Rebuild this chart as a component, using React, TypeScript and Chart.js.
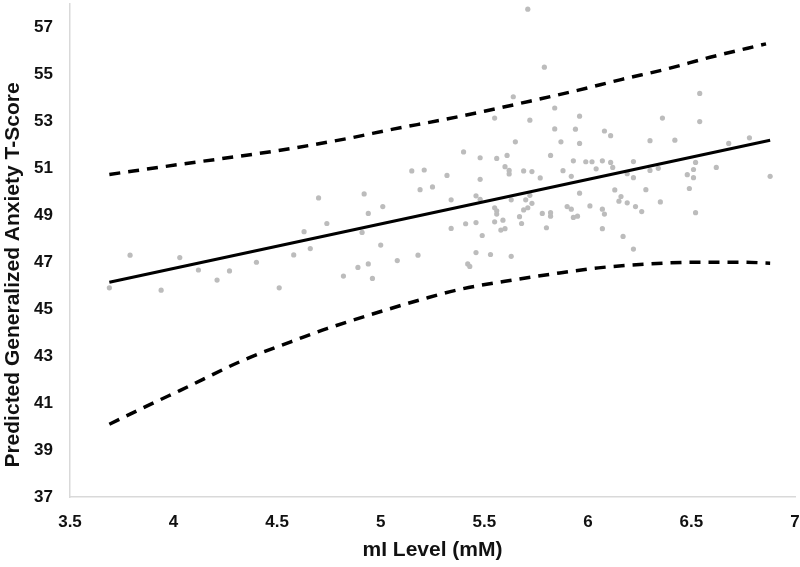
import React, { useEffect, useRef } from "react";
import { Chart, registerables } from "chart.js";

Chart.register(...registerables);

const xTicks = [3.5, 4, 4.5, 5, 5.5, 6, 6.5, 7];
const yTicks = [37, 39, 41, 43, 45, 47, 49, 51, 53, 55, 57];
const xTitle = "mI Level (mM)";
const yTitle = "Predicted Generalized Anxiety T-Score";

const observed: number[][] = [
  [3.69, 45.91], [3.79, 47.3], [3.94, 45.81], [4.03, 47.2], [4.12, 46.67], [4.21, 46.24],
  [4.27, 46.63], [4.4, 47.0], [4.51, 45.91], [4.58, 47.31], [4.63, 48.3], [4.66, 47.58],
  [4.7, 49.74], [4.74, 48.65], [4.82, 46.41], [4.89, 46.78], [4.91, 48.27], [4.92, 49.91],
  [4.94, 46.93], [4.96, 46.31], [4.94, 49.08], [5.01, 49.37],
  [5.64, 54.05], [5.84, 53.57], [5.55, 53.14], [5.72, 53.05], [5.84, 52.68], [5.65, 52.13],
  [5.87, 52.13], [5.4, 51.7], [5.48, 51.45], [5.56, 51.42], [5.61, 51.55], [5.82, 51.55],
  [5.6, 51.07], [5.62, 50.91], [5.62, 50.76], [5.69, 50.89], [5.73, 50.86], [5.77, 50.59],
  [5.88, 50.9], [5.15, 50.89], [5.21, 50.93], [5.32, 50.7], [5.48, 50.53], [5.19, 50.09],
  [5.25, 50.21], [5.34, 49.66], [5.46, 49.83], [5.48, 49.68], [5.55, 49.32], [5.56, 49.19],
  [5.56, 49.05], [5.63, 49.66], [5.7, 49.66], [5.72, 49.85], [5.73, 49.51], [5.71, 49.32],
  [5.69, 49.23], [5.67, 48.94], [5.78, 49.08], [5.82, 49.11], [5.82, 48.96], [5.9, 49.37],
  [5.34, 48.44], [5.41, 48.64], [5.46, 48.69], [5.49, 48.14], [5.55, 48.72], [5.59, 48.79],
  [5.58, 48.37], [5.6, 48.43], [5.68, 48.65], [5.8, 48.47], [5.0, 47.73], [5.18, 47.3],
  [5.08, 47.07], [5.46, 47.41], [5.53, 47.33], [5.63, 47.25], [5.42, 46.93], [5.43, 46.82],
  [5.71, 57.78], [5.79, 55.31],
  [6.54, 54.19], [5.96, 53.22], [6.36, 53.14], [6.54, 52.99], [5.94, 52.67], [6.08, 52.59],
  [6.11, 52.39], [5.96, 52.06], [6.3, 52.18], [6.42, 52.2], [6.68, 52.06], [6.78, 52.3],
  [5.93, 51.32], [5.99, 51.28], [6.02, 51.28], [6.07, 51.32], [6.11, 51.25], [6.22, 51.29],
  [6.04, 50.98], [6.12, 51.04], [5.92, 50.66], [6.19, 50.77], [6.22, 50.6], [6.3, 50.91],
  [6.34, 51.0], [6.48, 50.73], [6.51, 50.95], [6.52, 51.25], [6.51, 50.6], [6.62, 51.04],
  [6.88, 50.66], [5.96, 49.94], [6.13, 50.08], [6.16, 49.8], [6.15, 49.6], [6.19, 49.53],
  [6.28, 50.09], [6.35, 49.57], [6.49, 50.14], [5.92, 49.26], [5.93, 48.91], [5.95, 48.96],
  [6.01, 49.4], [6.07, 49.26], [6.08, 49.05], [6.23, 49.37], [6.26, 49.16], [6.52, 49.11],
  [6.07, 48.43], [6.17, 48.1], [6.22, 47.56],
];

const fitLine: number[][] = [
  [3.69, 46.15], [6.88, 52.2],
];

const upperBand: number[][] = [
  [3.69, 50.74], [4.04, 51.18], [4.5, 51.75], [4.84, 52.27], [5.06, 52.67], [5.29, 53.05],
  [5.5, 53.43], [5.72, 53.86], [5.95, 54.32], [6.16, 54.78], [6.38, 55.23], [6.59, 55.73],
  [6.86, 56.3],
];

const lowerBand: number[][] = [
  [3.69, 40.1], [3.92, 41.08], [4.03, 41.53], [4.33, 42.8], [4.63, 43.82], [4.74, 44.17],
  [5.0, 44.9], [5.2, 45.42], [5.38, 45.84], [5.6, 46.19], [5.83, 46.5], [6.05, 46.76],
  [6.28, 46.92], [6.52, 47.0], [6.75, 47.0], [6.88, 46.96],
];

const toPts = (a: number[][]) => a.map(([x, y]) => ({ x, y }));

const FONT = "'Liberation Sans', Arial, sans-serif";

const yTitlePlugin = {
  id: "yTitleDraw",
  afterDraw(chart: any) {
    const ctx = chart.ctx;
    ctx.save();
    ctx.translate(13, 275);
    ctx.rotate(-Math.PI / 2);
    ctx.font = `bold 21px ${FONT}`;
    ctx.fillStyle = "#111";
    ctx.textAlign = "center";
    ctx.textBaseline = "middle";
    ctx.fillText(yTitle, 0, 0);
    ctx.restore();
  },
};

export default function App() {
  const ref = useRef<HTMLCanvasElement>(null);
  useEffect(() => {
    if (!ref.current) return;
    const chart = new Chart(ref.current, {
      type: "scatter",
      data: {
        datasets: [
          {
            data: toPts(fitLine),
            showLine: true,
            borderColor: "#000",
            borderWidth: 3,
            pointRadius: 0,
            order: 1,
          },
          {
            data: toPts(upperBand),
            showLine: true,
            borderColor: "#000",
            borderWidth: 3.5,
            borderDash: [11, 8],
            pointRadius: 0,
            cubicInterpolationMode: "monotone",
            order: 2,
          },
          {
            data: toPts(lowerBand),
            showLine: true,
            borderColor: "#000",
            borderWidth: 3.5,
            borderDash: [11, 8],
            pointRadius: 0,
            cubicInterpolationMode: "monotone",
            order: 3,
          },
          {
            data: toPts(observed),
            showLine: false,
            backgroundColor: "#bcbcbc",
            borderWidth: 0,
            pointRadius: 2.6,
            order: 4,
          },
        ],
      },
      options: {
        animation: false,
        responsive: false,
        layout: { padding: { top: 1, right: 0, left: 0, bottom: 0 } },
        plugins: { legend: { display: false }, tooltip: { enabled: false } },
        scales: {
          x: {
            type: "linear",
            min: 3.5,
            max: 7,
            afterBuildTicks: (s: any) => {
              s.ticks = xTicks.map((v) => ({ value: v }));
            },
            afterFit: (s: any) => {
              s.height = 70;
              s.paddingLeft = 0;
              s.paddingRight = 5;
            },
            grid: { display: true, color: "rgba(0,0,0,0)", drawTicks: false },
            border: { display: true, color: "#d9d9d9", width: 1.5 },
            ticks: {
              padding: 15,
              color: "#111",
              font: { family: FONT, size: 17, weight: "bold" },
              callback: (v: any) => String(v),
            },
            title: {
              display: true,
              text: xTitle,
              color: "#111",
              font: { family: FONT, size: 21, weight: "bold" },
              padding: { top: 0, bottom: 4 },
            },
          },
          y: {
            type: "linear",
            min: 37,
            max: 58,
            afterBuildTicks: (s: any) => {
              s.ticks = yTicks.map((v) => ({ value: v }));
            },
            afterFit: (s: any) => {
              s.width = 70;
              s.paddingTop = 0;
              s.paddingBottom = 0;
            },
            grid: { display: true, color: "rgba(0,0,0,0)", drawTicks: false },
            border: { display: true, color: "#d9d9d9", width: 1.5 },
            ticks: {
              padding: 17,
              color: "#111",
              font: { family: FONT, size: 17, weight: "bold" },
              callback: (v: any) => String(v),
            },
            title: { display: false },
          },
        },
      },
      plugins: [yTitlePlugin],
    } as any);
    return () => chart.destroy();
  }, []);
  return (
    <div style={{ position: "fixed", left: 0, top: 0, width: 800, height: 567, background: "#fff" }}>
      <canvas ref={ref} width={800} height={567} style={{ display: "block" }} />
    </div>
  );
}
